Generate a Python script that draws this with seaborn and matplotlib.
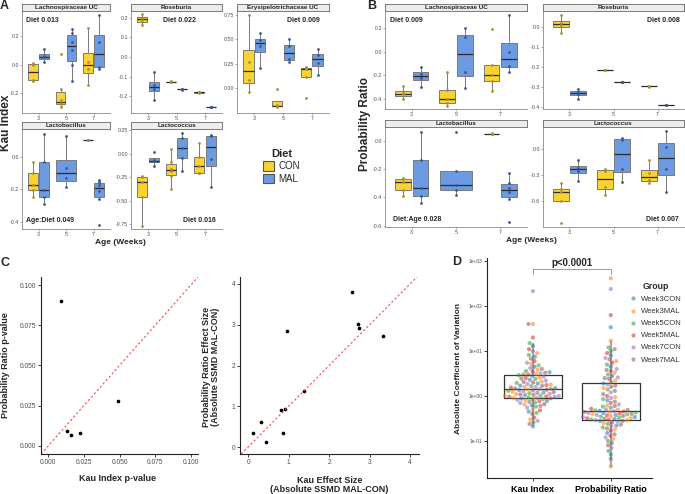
import numpy as np
import pandas as pd
import seaborn as sns
import matplotlib.pyplot as plt
from matplotlib.patches import Patch
from matplotlib.lines import Line2D
from matplotlib.ticker import FormatStrFormatter

W, H = 685, 494

ages = [3, 5, 7]
diets = ["CON", "MAL"]
diet_fill = {"CON": "#F9D235", "MAL": "#6C9BE2"}
diet_dot = {"CON": "#A8912C", "MAL": "#3A5792"}

# per-sample values, one list per age (3, 5, 7)
kau_lachno = {
    "CON": [[0.012, 0.0, -0.106, -0.115], [0.073, -0.17, -0.25, -0.27, -0.28, -0.30], [0.254, 0.02, -0.03, -0.146]],
    "MAL": [[0.108, 0.059, 0.05, 0.016], [0.25, 0.22, 0.16, 0.1, 0.0, -0.113], [0.346, 0.16, -0.016, -0.033]],
}
kau_roseburia = {
    "CON": [[0.217, 0.195, 0.186, 0.16], [-0.124, -0.125, -0.126], [-0.18, -0.181, -0.18]],
    "MAL": [[-0.078, -0.14, -0.16, -0.219], [-0.164, -0.165, -0.164], [-0.253, -0.254, -0.253]],
}
kau_erysipelo = {
    "CON": [[0.747, 0.274, 0.086, -0.034], [-0.01, -0.17, -0.18, -0.185], [0.222, 0.205, 0.2, 0.113, -0.10]],
    "MAL": [[0.565, 0.49, 0.43, 0.212], [0.503, 0.43, 0.3, 0.265], [0.404, 0.34, 0.26, 0.137]],
}
kau_lactobacillus = {
    "CON": [[-0.029, -0.097, -0.171, -0.206, -0.247], [], [0.105, 0.105, 0.106]],
    "MAL": [[0.14, -0.031, -0.206, -0.245, -0.289], [0.126, -0.07, -0.132, -0.186],
            [-0.144, -0.155, -0.17, -0.21, -0.26, -0.416]],
}
kau_lactococcus = {
    "CON": [[-0.236, -0.25, -0.3, -0.457, -0.764], [0.046, -0.09, -0.16, -0.185, -0.236, -0.379],
            [0.114, -0.03, -0.13, -0.2, -0.207]],
    "MAL": [[0.021, -0.07, -0.08, -0.129], [0.218, 0.17, 0.06, -0.04, -0.182], [0.2, 0.19, -0.05, -0.35]],
}

prob_lachno = {
    "CON": [[-0.29, -0.35, -0.365, -0.40], [-0.174, -0.33, -0.40, -0.437, -0.46], [0.191, -0.109, -0.2, -0.246, -0.337]],
    "MAL": [[-0.131, -0.19, -0.22, -0.3], [0.2, 0.125, -0.17, -0.309], [0.314, 0.0, -0.12, -0.174]],
}
prob_roseburia = {
    "CON": [[0.06, 0.02, 0.01, -0.03], [-0.215, -0.216, -0.215], [-0.295, -0.296, -0.295]],
    "MAL": [[-0.308, -0.325, -0.335, -0.357], [-0.273, -0.274, -0.273], [-0.388, -0.389, -0.388]],
}
prob_lactobacillus = {
    "CON": [[-0.265, -0.27, -0.29, -0.35, -0.388], [], [0.053, 0.053, 0.054]],
    "MAL": [[0.065, -0.135, -0.333, -0.388, -0.441], [0.065, -0.212, -0.31, -0.345, -0.385],
            [-0.229, -0.30, -0.33, -0.36, -0.41, -0.578]],
}
prob_lactococcus = {
    "CON": [[-0.392, -0.459, -0.5, -0.596, -0.851], [-0.235, -0.25, -0.44, -0.529], [-0.129, -0.28, -0.36, -0.392]],
    "MAL": [[-0.129, -0.22, -0.25, -0.365], [0.125, 0.11, -0.23, -0.38], [0.204, 0.02, -0.23, -0.498]],
}

# panel C
pval_kau = [0.013, 0.022, 0.009, 0.049, 0.016]
pval_prob = [0.009, 0.008, 0.090, 0.028, 0.007]
eff_kau = [0.13, 0.33, 0.44, 0.81, 0.87, 0.90, 0.95, 1.38, 2.56, 2.71, 2.75, 3.34]
eff_prob = [0.34, 0.62, 0.12, 0.91, 0.34, 0.94, 2.85, 1.37, 3.79, 3.02, 2.92, 2.73]

# panel D
groups = ["Week3CON", "Week3MAL", "Week5CON", "Week5MAL", "Week7CON", "Week7MAL"]
cv_kau = {
    "Week3CON": [0.21, 0.45, 0.62, 0.78, 0.88, 0.95, 1.05, 1.2, 1.35, 1.5, 1.7, 1.9, 2.3, 2.8, 3.4, 4.5, 7.5, 13.0],
    "Week3MAL": [0.3, 0.5, 0.65, 0.8, 0.9, 1.0, 1.1, 1.25, 1.4, 1.6, 1.8, 2.1, 2.6, 3.1, 3.8, 5.2, 9.0, 40.0],
    "Week5CON": [0.26, 0.42, 0.58, 0.72, 0.85, 0.93, 1.02, 1.15, 1.3, 1.45, 1.65, 1.95, 2.4, 2.9, 3.6, 4.8, 8.2, 15.0],
    "Week5MAL": [0.33, 0.48, 0.66, 0.76, 0.89, 0.98, 1.08, 1.22, 1.38, 1.55, 1.75, 2.0, 2.5, 3.0, 3.5, 6.0, 11.0, 20.0],
    "Week7CON": [0.28, 0.55, 0.7, 0.82, 0.91, 1.0, 1.12, 1.28, 1.42, 1.58, 1.85, 2.2, 2.7, 3.2, 4.2, 5.5, 10.0, 215.0],
    "Week7MAL": [0.24, 0.4, 0.6, 0.74, 0.86, 0.96, 1.06, 1.18, 1.33, 1.48, 1.68, 2.05, 2.45, 3.0, 3.3, 4.0, 6.8, 40.0],
}
cv_prob = {
    "Week3CON": [0.05, 0.09, 0.15, 0.22, 0.28, 0.31, 0.34, 0.38, 0.42, 0.47, 0.55, 0.8, 1.3, 1.9, 2.8, 4.5, 8.0, 34.0],
    "Week3MAL": [0.027, 0.11, 0.18, 0.25, 0.29, 0.32, 0.36, 0.4, 0.44, 0.5, 0.62, 0.95, 1.5, 2.2, 3.3, 6.0, 17.0, 417.0],
    "Week5CON": [0.06, 0.1, 0.2, 0.24, 0.3, 0.33, 0.35, 0.39, 0.43, 0.48, 0.58, 0.85, 1.4, 2.0, 3.0, 5.0, 10.0, 12.0],
    "Week5MAL": [0.08, 0.13, 0.17, 0.26, 0.3, 0.32, 0.37, 0.41, 0.45, 0.52, 0.7, 1.0, 1.6, 2.4, 3.6, 5.5, 9.0, 63.0],
    "Week7CON": [0.07, 0.12, 0.21, 0.27, 0.29, 0.34, 0.38, 0.42, 0.46, 0.5, 0.65, 0.9, 1.2, 1.8, 2.6, 4.0, 7.0, 240.0],
    "Week7MAL": [0.04, 0.14, 0.19, 0.23, 0.28, 0.31, 0.36, 0.4, 0.44, 0.49, 0.6, 0.75, 1.1, 1.7, 2.5, 3.8, 6.5, 11.0],
}

sns.set_theme(style="white")
plt.rcParams["font.family"] = ["Liberation Sans", "DejaVu Sans"]

fig = plt.figure(figsize=(W / 100, H / 100), dpi=100)


def px_axes(x0, y0, x1, y1):
    return fig.add_axes([x0 / W, 1 - y1 / H, (x1 - x0) / W, (y1 - y0) / H])


def facet(box, title, data, ylim, yticks, dec, note, nx, ny, ha):
    x0, y0, x1, y1 = box
    ax = px_axes(*box)
    for a in range(len(ages)):
        present = [d for d in diets if len(data[d][a]) > 0]
        for k, d in enumerate(present):
            vals = data[d][a]
            if len(present) == 2:
                pos, w = a + (-0.2 if k == 0 else 0.2), 0.36
            else:
                pos, w = a, 0.72
            xs = [pos] * len(vals)
            sns.boxplot(x=xs, y=vals, orient="x", native_scale=True, width=w,
                        color=diet_fill[d], saturation=1, linecolor="#7a7a7a",
                        linewidth=0.7, showfliers=False,
                        medianprops={"color": "#2b2b2b", "linewidth": 0.9},
                        capprops={"linewidth": 0}, ax=ax)
            sns.stripplot(x=xs, y=vals, orient="x", native_scale=True, jitter=False,
                          color=diet_dot[d], size=2, linewidth=0, ax=ax)
    ax.set_xlim(-0.6, 2.6)
    ax.set_xticks(range(3), [str(v) for v in ages])
    ax.set_ylim(*ylim)
    ax.set_yticks(yticks)
    ax.yaxis.set_major_formatter(FormatStrFormatter(f"%.{dec}f"))
    ax.set_xlabel("")
    ax.set_ylabel("")
    for s in ["top", "right"]:
        ax.spines[s].set_visible(False)
    for s in ["left", "bottom"]:
        ax.spines[s].set_color("#8a8a8a")
        ax.spines[s].set_linewidth(0.6)
    ax.tick_params(labelsize=3.8, length=1.5, width=0.5, color="#8a8a8a",
                   labelcolor="#4d4d4d", pad=0.8, left=True, bottom=True)
    ax.text(nx, ny, note, transform=ax.transAxes, ha=ha, va="center",
            fontsize=5, fontweight="bold")
    st = px_axes(x0, y0 - 7, x1, y0)
    st.set_facecolor("#EDEDED")
    st.set_xticks([])
    st.set_yticks([])
    for sp in st.spines.values():
        sp.set_color("#7a7a7a")
        sp.set_linewidth(0.7)
    st.text(0.5, 0.45, title, ha="center", va="center", fontsize=4.6, fontweight="bold")
    return ax


# ---- panel A ----
facet((22, 11, 110, 113), "Lachnospiraceae UC", kau_lachno, (-0.34, 0.376), [-0.2, 0, 0.2], 1,
      "Diet 0.013", 0.05, 0.91, "left")
facet((131, 11, 222, 113), "Roseburia", kau_roseburia, (-0.284, 0.233), [-0.2, -0.1, 0, 0.1, 0.2], 1,
      "Diet 0.022", 0.53, 0.91, "center")
facet((237, 11, 329, 113), "Erysipelotrichaceae UC", kau_erysipelo, (-0.25, 0.79), [0, 0.25, 0.5, 0.75], 2,
      "Diet 0.009", 0.72, 0.91, "center")
facet((22, 129, 110, 229), "Lactobacillus", kau_lactobacillus, (-0.443, 0.171), [-0.4, -0.2, 0.0], 1,
      "Age:Diet 0.049", 0.05, 0.09, "left")
facet((131, 129, 222, 229), "Lactococcus", kau_lactococcus, (-0.8, 0.264), [-0.75, -0.5, -0.25, 0, 0.25], 2,
      "Diet 0.016", 0.93, 0.09, "right")

# ---- panel B ----
facet((385, 11, 527, 109), "Lachnospiraceae UC", prob_lachno, (-0.489, 0.349), [-0.4, -0.2, 0, 0.2], 1,
      "Diet 0.009", 0.035, 0.9, "left")
facet((543, 11, 684, 109), "Roseburia", prob_roseburia, (-0.408, 0.08), [-0.4, -0.3, -0.2, -0.1, 0], 1,
      "Diet 0.008", 0.97, 0.9, "right")
facet((385, 127, 527, 227), "Lactobacillus", prob_lactobacillus, (-0.61, 0.1), [-0.6, -0.4, -0.2, 0], 1,
      "Diet:Age 0.028", 0.055, 0.08, "left")
facet((543, 127, 684, 227), "Lactococcus", prob_lactococcus, (-0.9, 0.255), [-0.6, -0.3, 0], 1,
      "Diet 0.007", 0.96, 0.08, "right")

fig.text(6 / W, 1 - 123 / H, "Kau Index", rotation=90, ha="center", va="center",
         fontsize=8.5, fontweight="bold")
fig.text(120 / W, 1 - 242 / H, "Age (Weeks)", ha="center", va="center", fontsize=6, fontweight="bold")
fig.text(365 / W, 1 - 124 / H, "Probability Ratio", rotation=90, ha="center", va="center",
         fontsize=8.5, fontweight="bold")
fig.text(531 / W, 1 - 240 / H, "Age (Weeks)", ha="center", va="center", fontsize=6, fontweight="bold")

diet_handles = [Patch(facecolor=diet_fill[d], edgecolor="#555555", linewidth=0.8, label=d) for d in diets]
fig.legend(handles=diet_handles, title="Diet", loc="upper left", bbox_to_anchor=(259 / W, 1 - 145 / H),
           frameon=False, fontsize=7, title_fontproperties={"weight": "bold", "size": 8},
           handlelength=1.1, handleheight=1.1, handletextpad=0.5, labelspacing=0.25, borderaxespad=0)

# ---- panel C ----
def classic(ax, size):
    for s in ["top", "right"]:
        ax.spines[s].set_visible(False)
    for s in ["left", "bottom"]:
        ax.spines[s].set_color("#222222")
        ax.spines[s].set_linewidth(0.8)
    ax.tick_params(labelsize=size, length=2, width=0.6, color="#222222",
                   labelcolor="#4d4d4d", pad=1.5, left=True, bottom=True)
    ax.grid(False)


axc1 = px_axes(41, 277, 198, 454)
sns.scatterplot(x=pval_kau, y=pval_prob, color="black", s=7, linewidth=0, ax=axc1)
axc1.axline((0, 0), slope=1, color="#F05050", ls=(0, (2, 2)), lw=0.8)
axc1.set_xlim(-0.005, 0.105)
axc1.set_ylim(-0.005, 0.105)
ticks_p = [0, 0.025, 0.05, 0.075, 0.1]
axc1.set_xticks(ticks_p)
axc1.set_yticks(ticks_p)
axc1.xaxis.set_major_formatter(FormatStrFormatter("%.3f"))
axc1.yaxis.set_major_formatter(FormatStrFormatter("%.3f"))
classic(axc1, 4.8)
axc1.set_xlabel("Kau Index p-value", fontsize=6.5, fontweight="bold")
axc1.set_ylabel("Probability Ratio p-value", fontsize=6.5, fontweight="bold")
axc1.xaxis.set_label_coords(0.49, -0.113)
axc1.yaxis.set_label_coords(-0.2, 0.5)

axc2 = px_axes(240, 277, 419, 454)
sns.scatterplot(x=eff_kau, y=eff_prob, color="black", s=7, linewidth=0, ax=axc2)
axc2.axline((0, 0), slope=1, color="#F05050", ls=(0, (2, 2)), lw=0.8)
axc2.set_xlim(-0.2, 4.22)
axc2.set_ylim(-0.17, 4.17)
axc2.set_xticks(range(5))
axc2.set_yticks(range(5))
classic(axc2, 4.8)
axc2.set_xlabel("Kau Effect Size\n(Absolute SSMD MAL-CON)", fontsize=6.5, fontweight="bold", linespacing=1.0)
axc2.set_ylabel("Probability Ratio Effect Size\n(Absolute SSMD MAL-CON)", fontsize=6.5,
                fontweight="bold", linespacing=1.0)
axc2.xaxis.set_label_coords(0.5, -0.124)
axc2.yaxis.set_label_coords(-0.11, 0.49)

# ---- panel D ----
rows = []
for metric, table in [("Kau Index", cv_kau), ("Probability Ratio", cv_prob)]:
    for g in groups:
        for v in table[g]:
            rows.append({"metric": metric, "group": g, "cv": v})
dfd = pd.DataFrame(rows)

axd = px_axes(487, 258, 652, 478)
pal = dict(zip(groups, sns.color_palette("tab10", 6)))
sns.swarmplot(data=dfd, x="metric", y="cv", hue="group", hue_order=groups, palette=pal,
              size=3.0, alpha=0.55, linewidth=0, legend=False, log_scale=True, ax=axd)
sns.boxplot(data=dfd, x="metric", y="cv", fill=False, showfliers=False, width=0.75,
            color="#333333", linewidth=0.9, log_scale=True,
            whiskerprops={"color": "#a8a8a8", "linewidth": 1.6},
            capprops={"linewidth": 0}, ax=axd)
axd.set_xlim(-0.59, 1.53)
axd.set_ylim(0.015, 1175)
axd.set_yticks([0.1, 1, 10, 100, 1000], ["1e-01", "1e+00", "1e+01", "1e+02", "1e+03"])
axd.minorticks_off()
classic(axd, 3.5)
axd.tick_params(axis="x", labelsize=6.5, labelcolor="black", pad=3)
for lab in axd.get_xticklabels():
    lab.set_fontweight("bold")
axd.set_xlabel("")
axd.set_ylabel("Absolute Coefficient of Variation", fontsize=6, fontweight="bold")
axd.yaxis.set_label_coords(-0.15, 0.5)

tr = axd.get_xaxis_transform()
axd.plot([0, 0, 1, 1], [0.927, 0.95, 0.95, 0.927], transform=tr, color="#9a9a9a", lw=0.7, clip_on=False)
axd.text(0.5, 0.956, "p<0.0001", transform=tr, ha="center", va="bottom", fontsize=7, fontweight="bold")

grp_handles = [Line2D([], [], marker="o", ls="", color=pal[g], alpha=0.55, markersize=3,
                      markeredgewidth=0, label=g) for g in groups]
leg = fig.legend(handles=grp_handles, title="Group", loc="upper left", bbox_to_anchor=(627 / W, 1 - 279 / H),
                 frameon=False, fontsize=5.5, title_fontproperties={"weight": "bold", "size": 6.3},
                 handlelength=0.8, handletextpad=0.6, labelspacing=0.62, borderaxespad=0)
for t in leg.get_texts():
    t.set_color("#333333")

# panel letters
for lab, x, y in [("A", 4, 6), ("B", 372, 6), ("C", 5, 263), ("D", 457, 262)]:
    fig.text(x / W, 1 - y / H, lab, ha="center", va="center", fontsize=9, fontweight="bold")

fig.savefig("out.png", dpi=100)
